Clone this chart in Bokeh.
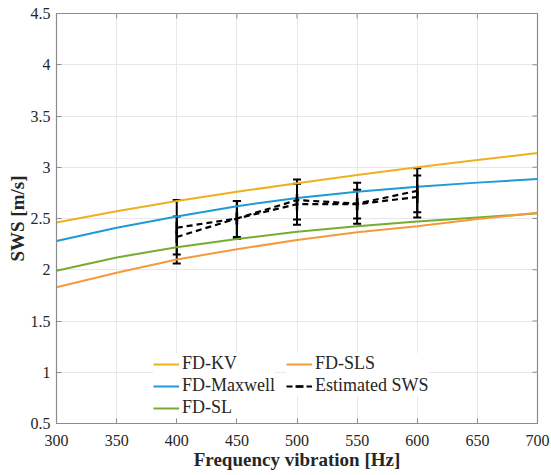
import math
from bokeh.plotting import figure
from bokeh.models import (FixedTicker, Legend, LegendItem, Whisker,
                          ColumnDataSource, TeeHead, Range1d)
from bokeh.embed import file_html
from bokeh.resources import INLINE

# ---------------- data ----------------
freq = [300, 350, 400, 450, 500, 550, 600, 650, 700]
fd_kv = [2.46, 2.57, 2.67, 2.76, 2.845, 2.925, 3.00, 3.07, 3.14]
fd_maxwell = [2.28, 2.41, 2.52, 2.62, 2.70, 2.76, 2.81, 2.85, 2.885]
fd_sl = [1.99, 2.12, 2.22, 2.30, 2.37, 2.425, 2.47, 2.51, 2.55]
fd_sls = [1.83, 1.97, 2.10, 2.20, 2.29, 2.365, 2.425, 2.495, 2.555]

freq_est = [400, 450, 500, 550, 600]
est1 = [2.41, 2.50, 2.68, 2.645, 2.77]
est1_low = [2.15, 2.32, 2.49, 2.45, 2.56]
est1_up = [2.68, 2.67, 2.88, 2.85, 2.99]
est2 = [2.32, 2.50, 2.64, 2.64, 2.71]
est2_low = [2.06, 2.30, 2.44, 2.50, 2.51]
est2_up = [2.52, 2.67, 2.84, 2.78, 2.92]

x_min, x_max = 300, 700
y_min, y_max = 0.5, 4.5
x_ticks = [300, 350, 400, 450, 500, 550, 600, 650, 700]
y_ticks = [0.5, 1, 1.5, 2, 2.5, 3, 3.5, 4, 4.5]
y_tick_labels = ["0.5", "1", "1.5", "2", "2.5", "3", "3.5", "4", "4.5"]

# ---------------- style ----------------
FONT = "Liberation Serif"
C_KV = "#EDB120"
C_MAX = "#1F9AD6"
C_SL = "#77AC30"
C_SLS = "#F59A3C"
AX = "#8c8c8c"
TXT = "#262626"

p = figure(width=551, height=475, output_backend="svg", toolbar_location=None,
           x_range=Range1d(x_min, x_max), y_range=Range1d(y_min, y_max),
           min_border_left=56, min_border_right=14, min_border_top=13,
           min_border_bottom=52)
p.outline_line_color = AX
p.outline_line_width = 1.2

for ax in (p.xaxis[0], p.yaxis[0]):
    ax.major_tick_in = 5
    ax.major_tick_out = 0
    ax.minor_tick_in = 0
    ax.minor_tick_out = 0
    ax.axis_line_color = AX
    ax.major_tick_line_color = AX
    ax.major_label_text_font = FONT
    ax.major_label_text_font_size = "16px"
    ax.major_label_text_color = TXT
    ax.axis_label_text_font = FONT
    ax.axis_label_text_font_size = "19px"
    ax.axis_label_text_font_style = "bold"
    ax.axis_label_text_color = TXT

p.xaxis.ticker = FixedTicker(ticks=x_ticks)
p.yaxis.ticker = FixedTicker(ticks=y_ticks)
p.yaxis.major_label_overrides = {t: l for t, l in zip(y_ticks, y_tick_labels)}
p.xaxis.axis_label = "Frequency vibration [Hz]"
p.yaxis.axis_label = "SWS [m/s]"
p.xaxis.major_label_standoff = 11
p.xaxis.axis_label_standoff = 0
p.yaxis.major_label_standoff = 6
p.yaxis.axis_label_standoff = 0

# mirrored ticks on top and right (box on)
p.ray(x=x_ticks, y=[y_max] * len(x_ticks), length=5, length_units="screen",
      angle=-math.pi / 2, line_color=AX, line_width=1)
p.ray(x=[x_max] * len(y_ticks), y=y_ticks, length=5, length_units="screen",
      angle=math.pi, line_color=AX, line_width=1)

p.xgrid.ticker = FixedTicker(ticks=x_ticks)
p.ygrid.ticker = FixedTicker(ticks=y_ticks)
p.grid.grid_line_color = "#e8e8e8"
p.grid.grid_line_width = 1

# model curves
r_kv = p.line(freq, fd_kv, line_color=C_KV, line_width=2)
r_max = p.line(freq, fd_maxwell, line_color=C_MAX, line_width=2)
r_sl = p.line(freq, fd_sl, line_color=C_SL, line_width=2)
r_sls = p.line(freq, fd_sls, line_color=C_SLS, line_width=2)

# estimated SWS with error bars
for y, lo, up in ((est1, est1_low, est1_up), (est2, est2_low, est2_up)):
    src = ColumnDataSource(dict(x=freq_est, y=y, lo=lo, up=up))
    w = Whisker(base="x", upper="up", lower="lo", source=src,
                line_color="black", line_width=2,
                upper_head=TeeHead(size=8, line_color="black", line_width=2),
                lower_head=TeeHead(size=8, line_color="black", line_width=2))
    p.add_layout(w)
    r_est = p.line("x", "y", source=src, line_color="black", line_width=2.2,
                   line_dash="6 4")
    r_bar = p.scatter("x", "y", source=src, marker="dash", angle=math.pi / 2,
                      size=12, line_color="black", line_width=2.5)

def make_legend(items, loc):
    lg = Legend(items=items, location=loc)
    lg.label_text_font = FONT
    lg.label_text_font_size = "18px"
    lg.label_text_color = TXT
    lg.border_line_color = None
    lg.background_fill_color = "white"
    lg.background_fill_alpha = 1
    lg.glyph_width = 26
    lg.glyph_height = 20
    lg.label_standoff = 3
    lg.label_height = 20
    lg.spacing = 1
    lg.padding = 4
    lg.margin = 0
    return lg

leg1 = make_legend([
    LegendItem(label="FD-KV", renderers=[r_kv]),
    LegendItem(label="FD-Maxwell", renderers=[r_max]),
    LegendItem(label="FD-SL", renderers=[r_sl]),
], (97, 5))
leg2 = make_legend([
    LegendItem(label="FD-SLS", renderers=[r_sls]),
    LegendItem(label="Estimated SWS", renderers=[r_est, r_bar]),
], (230, 27))
p.add_layout(leg1, "center")
p.add_layout(leg2, "center")

open("out.html", "w").write(file_html(p, INLINE))
